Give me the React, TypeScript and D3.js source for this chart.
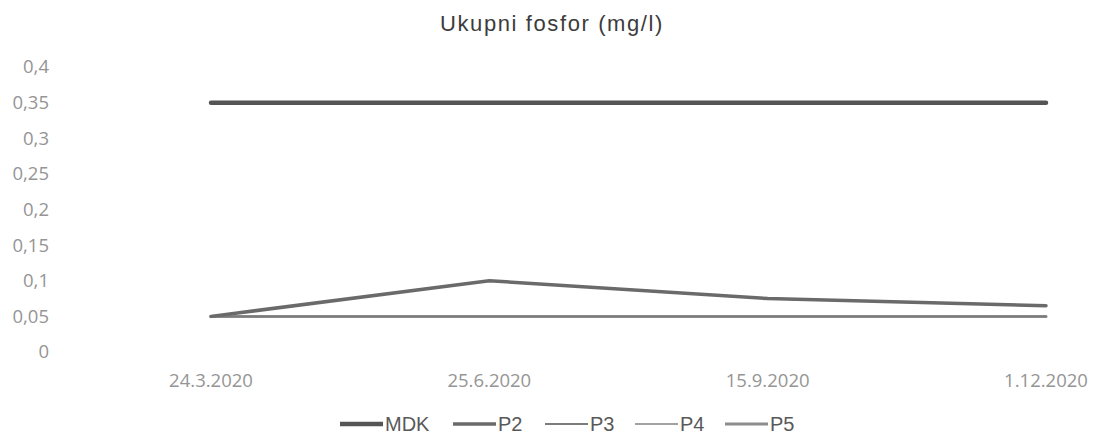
import React from 'react';
import * as d3 from 'd3';

const dates = ['24.3.2020', '25.6.2020', '15.9.2020', '1.12.2020'];
const seriesNames = ['MDK', 'P2', 'P3', 'P4', 'P5'];
const mdk = [0.35, 0.35, 0.35, 0.35];
const p2 = [0.05, 0.1, 0.075, 0.065];
const p3 = [0.05, 0.05, 0.05, 0.05];
const p4 = [0.05, 0.05, 0.05, 0.05];
const p5 = [0.05, 0.05, 0.05, 0.05];
const yTicks = [0, 0.05, 0.1, 0.15, 0.2, 0.25, 0.3, 0.35, 0.4];

const styles: Record<string, { color: string; width: number }> = {
  MDK: { color: '#555555', width: 4.5 },
  P2: { color: '#6a6a6a', width: 3.5 },
  P3: { color: '#7c7c7c', width: 2 },
  P4: { color: '#a2a2a2', width: 2 },
  P5: { color: '#8c8c8c', width: 3 },
};

const W = 1094;
const H = 439;

export default function App() {
  const values = [mdk, p2, p3, p4, p5];
  const x = d3.scalePoint<string>().domain(dates).range([211, 1046]);
  const y = d3.scaleLinear().domain([0, 0.4]).range([352, 67]);
  const line = d3
    .line<number>()
    .x((_, i) => x(dates[i]) as number)
    .y((d) => y(d));

  const fmt = (v: number) => String(+v.toFixed(2)).replace('.', ',');

  // legend positions (line start of each entry)
  const legendX = [340, 453, 545, 635, 725];

  // lighter series first so P2 sits on top of the flat ones
  const order = [4, 3, 2, 1, 0];

  return (
    <svg
      width={W}
      height={H}
      style={{ position: 'absolute', left: 0, top: 0, background: '#fff' }}
    >
      <text
        x={552}
        y={31}
        textAnchor="middle"
        fontFamily="Liberation Sans, Arial, sans-serif"
        fontSize={22}
        letterSpacing={1.6}
        fill="#3c3c3c"
      >
        Ukupni fosfor (mg/l)
      </text>

      {yTicks.map((t) => (
        <text
          key={t}
          x={49}
          y={y(t)}
          dy="0.35em"
          textAnchor="end"
          fontFamily="Open Sans, sans-serif"
          fontSize={18.5}
          fill="#959595"
        >
          {fmt(t)}
        </text>
      ))}

      {dates.map((d) => (
        <text
          key={d}
          x={x(d)}
          y={387}
          textAnchor="middle"
          fontFamily="Open Sans, sans-serif"
          fontSize={18.5}
          fill="#959595"
        >
          {d}
        </text>
      ))}

      {order.map((i) => (
        <path
          key={seriesNames[i]}
          d={line(values[i]) || ''}
          fill="none"
          stroke={styles[seriesNames[i]].color}
          strokeWidth={styles[seriesNames[i]].width}
          strokeLinejoin="round"
          strokeLinecap="round"
        />
      ))}

      {seriesNames.map((name, i) => (
        <g key={name}>
          <line
            x1={legendX[i]}
            x2={legendX[i] + 43}
            y1={424}
            y2={424}
            stroke={styles[name].color}
            strokeWidth={styles[name].width}
          />
          <text
            x={legendX[i] + 45}
            y={431}
            fontFamily="Liberation Sans, Arial, sans-serif"
            fontSize={20}
            fill="#595959"
          >
            {name}
          </text>
        </g>
      ))}
    </svg>
  );
}
